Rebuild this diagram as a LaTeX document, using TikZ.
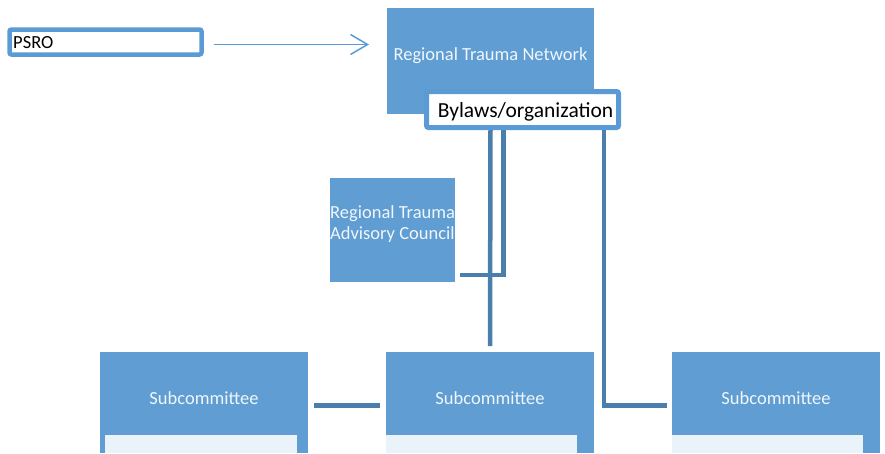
\documentclass[tikz,border=0pt]{standalone}
\usepackage{fontspec}
\setmainfont{Carlito}
\usetikzlibrary{arrows.meta,calc}
\definecolor{boxblue}{HTML}{5F9DD2}
\definecolor{linkblue}{HTML}{4A7EAD}
\definecolor{edgeblue}{HTML}{5B9BD5}
\definecolor{paleblue}{HTML}{EAF2FA}
\definecolor{txtwhite}{HTML}{F0F6FC}
\begin{document}
\begin{tikzpicture}[x=1pt,y=-1pt,
  box/.style={fill=boxblue, draw=none, anchor=north west, inner sep=0pt, outer sep=0pt},
  pale/.style={fill=paleblue, draw=none, anchor=north west, inner sep=0pt, outer sep=0pt},
  framed/.style={fill=white, draw=edgeblue, line width=5pt, rounded corners=2pt, anchor=north west, inner sep=0pt, outer sep=0pt},
  wtxt/.style={text=txtwhite, font=\fontsize{18.5}{21}\selectfont, inner sep=0pt},
  btxt/.style={text=black, inner sep=0pt},
  link/.style={draw=linkblue, line width=4.5pt},
  arr/.style={draw=edgeblue, line width=1.5pt, -{Straight Barb[length=17pt,width=20pt,line width=1.5pt]}}
]
\useasboundingbox (0,0) rectangle (885,453);
% boxes
\node[box, minimum width=207pt, minimum height=106pt] (rtn) at (387,8) {};
\node[box, minimum width=125pt, minimum height=104pt] (rtac) at (330,178) {};
\node[box, minimum width=208pt, minimum height=101pt] (sub1) at (100,352) {};
\node[box, minimum width=208pt, minimum height=101pt] (sub2) at (386,352) {};
\node[box, minimum width=208pt, minimum height=101pt] (sub3) at (672,352) {};
\node[pale, minimum width=192pt, minimum height=18pt] (in1) at (105,435) {};
\node[pale, minimum width=191pt, minimum height=18pt] (in2) at (386,435) {};
\node[pale, minimum width=191pt, minimum height=18pt] (in3) at (672,435) {};
% connectors
\coordinate (m1) at (490.5,0);
\coordinate (m2) at (503.5,0);
\coordinate (r1) at (604,0);
\draw[link] (m1 |- 0,127.5) -- ($(sub2.north)+(0,-6)$);
\draw[link] (m2 |- 0,127.5) |- ($(rtac.south east)+(5,-7)$);
\draw[link] (r1 |- 0,127.5) |- ($(sub3.north west)+(-5,53.5)$);
\draw[link] ($(sub1.north east)+(6,53.5)$) -- ($(sub2.north west)+(-6,53.5)$);
% framed boxes
\node[framed, minimum width=192pt, minimum height=36pt] (bylaws) at (426.5,91.5) {};
\node[framed, line width=4.5pt, minimum width=192pt, minimum height=25pt] (psro) at (9.5,29.5) {};
\draw[arr] ($(psro.east)+(12,2.5)$) -- ($(rtn.west)+(-18,-16.5)$);
% texts
\node[wtxt, anchor=base] (trtn) at (490.5,60) {Regional Trauma Network};
\node[wtxt, anchor=base west, align=left] (trtac) at (330,239) {Regional Trauma\\Advisory Council};
\node[wtxt, anchor=base] (ts1) at (204,404) {Subcommittee};
\node[wtxt, anchor=base] (ts2) at (490,404) {Subcommittee};
\node[wtxt, anchor=base] (ts3) at (776,404) {Subcommittee};
\node[btxt, anchor=base, font=\fontsize{21.5}{24}\selectfont] (tby) at (525.5,117) {Bylaws/organization};
\node[btxt, anchor=base west, font=\fontsize{18.5}{21}\selectfont] (tps) at (13,48) {PSRO};
\end{tikzpicture}
\end{document}
